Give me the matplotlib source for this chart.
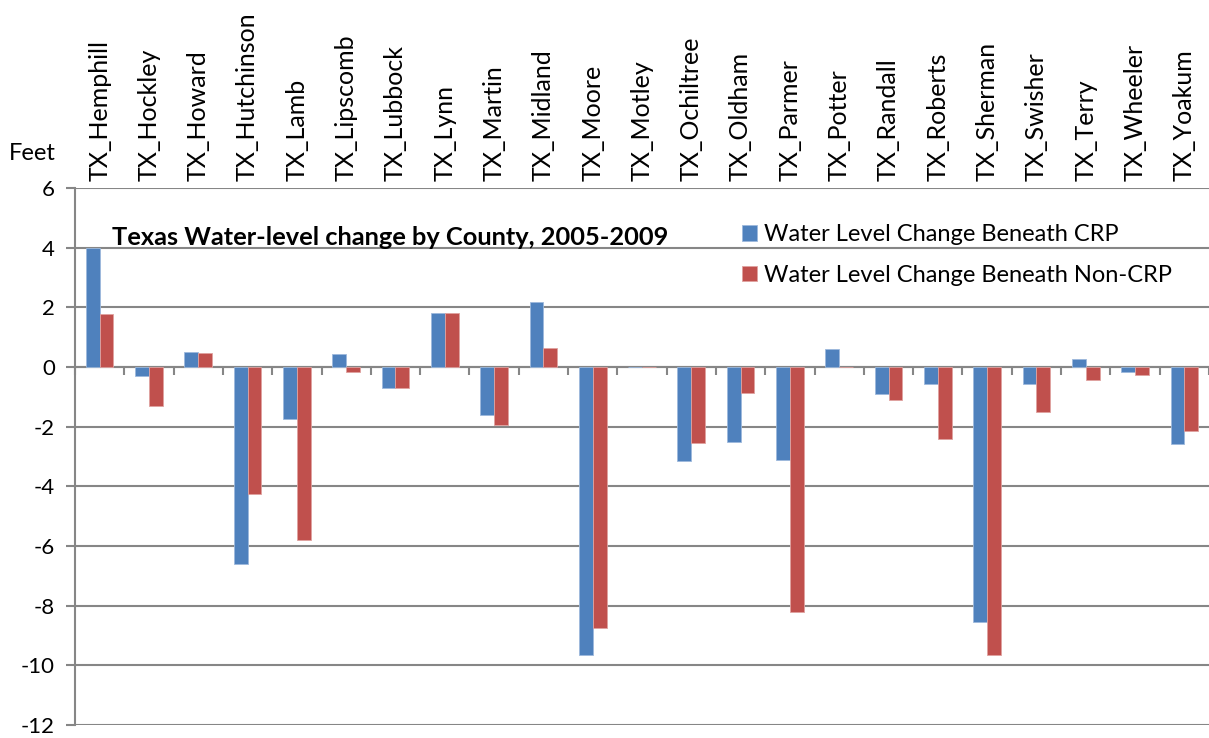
import matplotlib
import matplotlib.pyplot as plt
import numpy as np

matplotlib.use("agg")
plt.rcParams["font.family"] = ["Lato", "DejaVu Sans"]

counties = [
    "TX_Hemphill", "TX_Hockley", "TX_Howard", "TX_Hutchinson", "TX_Lamb",
    "TX_Lipscomb", "TX_Lubbock", "TX_Lynn", "TX_Martin", "TX_Midland",
    "TX_Moore", "TX_Motley", "TX_Ochiltree", "TX_Oldham", "TX_Parmer",
    "TX_Potter", "TX_Randall", "TX_Roberts", "TX_Sherman", "TX_Swisher",
    "TX_Terry", "TX_Wheeler", "TX_Yoakum",
]
crp = [4.0, -0.29, 0.49, -6.62, -1.75, 0.44, -0.71, 1.80, -1.60, 2.17,
       -9.67, 0.0, -3.16, -2.51, -3.13, 0.61, -0.91, -0.57, -8.55, -0.57,
       0.26, -0.16, -2.57]
non_crp = [1.79, -1.32, 0.46, -4.25, -5.80, -0.18, -0.71, 1.81, -1.96, 0.63,
           -8.76, 0.0, -2.54, -0.88, -8.20, 0.0, -1.10, -2.42, -9.64, -1.52,
           -0.45, -0.28, -2.14]
yticks = [6, 4, 2, 0, -2, -4, -6, -8, -10, -12]

blue = "#4F81BD"
red = "#C0504D"
grid = "#868686"

fig = plt.figure(figsize=(12.09, 7.38), dpi=100)
ax = fig.add_axes([75 / 1209, 13 / 738, 1134 / 1209, 537 / 738])

x = np.arange(len(counties))
w = 0.28
ax.bar(x - w / 2, crp, w, color=blue, edgecolor="#9DB9DC", linewidth=0.6,
       label="Water Level Change Beneath CRP", zorder=3)
ax.bar(x + w / 2, non_crp, w, color=red, edgecolor="#DFA2A0", linewidth=0.6,
       label="Water Level Change Beneath Non-CRP", zorder=3)

ax.set_xlim(-0.5, len(counties) - 0.5)
ax.set_ylim(-12, 6)
ax.set_yticks(yticks)
ax.set_yticklabels([str(v) for v in yticks], fontsize=16)
ax.yaxis.grid(True, color=grid, linewidth=1.5, zorder=0)
ax.tick_params(axis="y", length=6.5, width=1.5, color=grid, direction="out", pad=8)

# x axis sits on zero, ticks at category boundaries
ax.spines["bottom"].set_position(("data", 0))
ax.spines["bottom"].set_color(grid)
ax.spines["bottom"].set_linewidth(1.5)
ax.spines["left"].set_color(grid)
ax.spines["left"].set_linewidth(1.5)
ax.spines["top"].set_visible(False)
ax.spines["right"].set_visible(False)
ax.set_xticks(np.arange(len(counties) + 1) - 0.5)
ax.set_xticklabels([])
ax.tick_params(axis="x", length=5.5, width=1.5, color=grid, direction="out")

top = ax.secondary_xaxis("top")
top.set_xticks(x)
top.set_xticklabels(counties, rotation=90, fontsize=18)
top.tick_params(length=0, pad=5)
top.spines["top"].set_visible(False)

fig.text(9 / 1209, 1 - 153 / 738, "Feet", fontsize=17, va="center")

ax.text(0.0326, 0.894, "Texas Water-level change by County, 2005-2009",
        transform=ax.transAxes, fontsize=18.3, fontweight="bold", va="baseline")

ax.legend(loc="upper left", bbox_to_anchor=(0.580, 0.950), frameon=False,
          fontsize=17, handlelength=0.63, handleheight=0.63, handletextpad=0.3,
          labelspacing=0.82, borderaxespad=0)

fig.savefig("out.png", dpi=100)
plt.close(fig)
